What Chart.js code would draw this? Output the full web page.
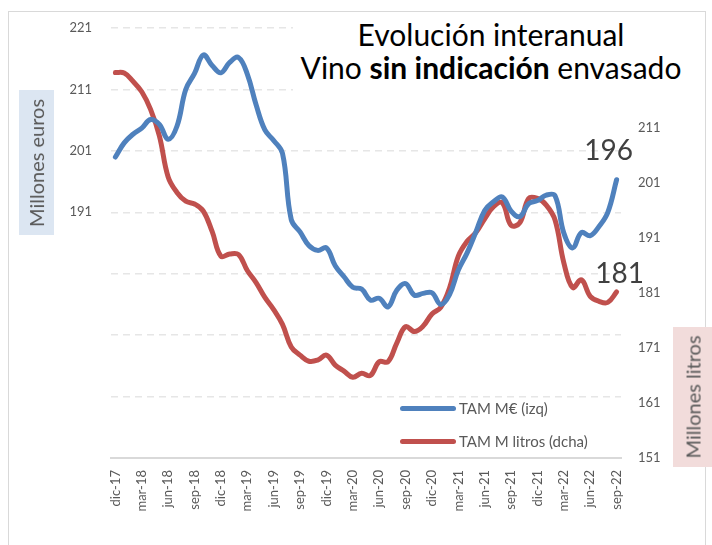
<!DOCTYPE html>
<html>
<head>
<meta charset="utf-8">
<script src="https://cdn.jsdelivr.net/npm/chart.js@4.4.1/dist/chart.umd.min.js"></script>
<style>
  html, body { margin: 0; padding: 0; background: #fff; }
  #wrap { position: relative; width: 712px; height: 545px; overflow: hidden; font-family: Lato, "Open Sans", sans-serif; }
  #c { position: absolute; left: 0; top: 0; }
  .abs { position: absolute; }
  #frame { left: 8px; top: 11px; width: 698px; height: 560px; border: 1px solid #d9d9d9; box-sizing: border-box; pointer-events: none; }
  #titlebox { left: 293px; top: 14px; width: 396px; height: 86px; background: #fff; text-align: center; color: #000; font-size: 30px; line-height: 33.4px; padding-top: 4px; box-sizing: border-box; white-space: nowrap; }
  .ytitle { color: #595959; font-size: 20px; display: flex; align-items: center; justify-content: center; }
  .ytitle span { transform: rotate(-90deg); white-space: nowrap; display: block; }
  #ylt { left: 19px; top: 90px; width: 35px; height: 145px; background: #dce6f2; }
  #yrt { left: 673px; top: 327px; width: 39px; height: 140px; background: #f2dcdb; }
  .lgline { height: 5px; border-radius: 3px; width: 56px; }
  .lgtext { color: #595959; font-size: 15px; line-height: 16px; white-space: nowrap; }
</style>
</head>
<body>
<div id="wrap">
  <canvas id="c" width="712" height="545" style="width:712px;height:545px"></canvas>
  <div id="frame" class="abs"></div>
  <div id="titlebox" class="abs">Evolución interanual<br>Vino <b>sin indicación</b> envasado</div>
  <div id="ylt" class="abs ytitle"><span>Millones euros</span></div>
  <div id="yrt" class="abs ytitle"><span>Millones litros</span></div>
  <div class="abs lgline" style="left:400px;top:406px;background:#4f81bd"></div>
  <div class="abs lgtext" style="left:459px;top:400px">TAM M€ (izq)</div>
  <div class="abs lgline" style="left:400px;top:439px;background:#c0504d"></div>
  <div class="abs lgtext" style="left:459px;top:433px">TAM M litros (dcha)</div>
</div>
<script>
const categories = [
  "dic-17",
  "ene-18","feb-18","mar-18","abr-18","may-18","jun-18","jul-18","ago-18","sep-18","oct-18","nov-18","dic-18",
  "ene-19","feb-19","mar-19","abr-19","may-19","jun-19","jul-19","ago-19","sep-19","oct-19","nov-19","dic-19",
  "ene-20","feb-20","mar-20","abr-20","may-20","jun-20","jul-20","ago-20","sep-20","oct-20","nov-20","dic-20",
  "ene-21","feb-21","mar-21","abr-21","may-21","jun-21","jul-21","ago-21","sep-21","oct-21","nov-21","dic-21",
  "ene-22","feb-22","mar-22","abr-22","may-22","jun-22","jul-22","ago-22","sep-22"
];
const seriesNames = ["TAM M€ (izq)", "TAM M litros (dcha)"];
const tamEuros = [
  200.0, 202.3, 203.7, 204.7, 206.1, 205.3, 202.9, 205.0, 211.0, 213.6,
  216.6, 214.9, 213.7, 215.4, 216.2, 213.5, 208.5, 204.4, 202.7, 200.6,
  189.8, 187.8, 185.6, 184.8, 185.2, 182.3, 180.5, 178.8, 178.5, 176.7,
  177.0, 175.6, 178.3, 179.4, 177.5, 177.8, 177.9, 176.0, 177.6, 181.6,
  184.4, 187.8, 191.3, 192.7, 193.5, 191.2, 190.3, 192.4, 192.9, 193.8,
  193.7, 187.6, 185.2, 187.7, 187.2, 188.7, 191.0, 196.3
];
const tamLitros = [
  221.1, 221.0, 219.5, 217.6, 214.4, 209.6, 202.1, 199.3, 197.7, 197.2,
  195.9, 192.2, 187.7, 188.1, 188.0, 185.1, 182.9, 180.2, 178.0, 175.3,
  171.2, 169.7, 168.6, 168.8, 169.7, 167.9, 166.8, 165.7, 166.4, 166.0,
  168.5, 168.5, 171.9, 174.9, 174.0, 175.0, 177.2, 178.4, 181.9, 187.7,
  190.4, 192.0, 194.5, 196.7, 197.4, 193.3, 193.8, 198.2, 198.2, 197.0,
  194.3, 186.5, 182.0, 183.4, 180.4, 179.5, 179.3, 181.2
];
const leftTicks = [191, 201, 211, 221];
const rightTicks = [151, 161, 171, 181, 191, 201, 211];
const endLabels = ["196", "181"];

const tickColor = "#595959";
const fontFam = "Lato, 'Open Sans', sans-serif";

const endLabelPlugin = {
  id: "endLabels",
  afterDatasetsDraw(chart) {
    const ctx = chart.ctx;
    ctx.save();
    ctx.fillStyle = "#404040";
    ctx.font = "28px " + fontFam;
    ctx.textAlign = "center";
    ctx.textBaseline = "alphabetic";
    const m0 = chart.getDatasetMeta(0).data;
    const p0 = m0[m0.length - 1];
    ctx.fillText(endLabels[0], p0.x - 8, p0.y - 20);
    const m1 = chart.getDatasetMeta(1).data;
    const p1 = m1[m1.length - 1];
    ctx.fillText(endLabels[1], p1.x + 3, p1.y - 9);
    ctx.restore();
  }
};

new Chart(document.getElementById("c"), {
  type: "line",
  data: {
    labels: categories,
    datasets: [
      { label: seriesNames[0], data: tamEuros, yAxisID: "yL", borderColor: "#4f81bd", borderWidth: 5, tension: 0.4, pointRadius: 0, borderCapStyle: "round", borderJoinStyle: "round", fill: false },
      { label: seriesNames[1], data: tamLitros, yAxisID: "yR", borderColor: "#c0504d", borderWidth: 5, tension: 0.4, pointRadius: 0, borderCapStyle: "round", borderJoinStyle: "round", fill: false }
    ]
  },
  options: {
    responsive: false,
    devicePixelRatio: 1,
    animation: false,
    layout: { padding: { left: 0, right: 0, top: 28, bottom: 0 } },
    plugins: { legend: { display: false }, tooltip: { enabled: false }, title: { display: false } },
    scales: {
      x: {
        type: "category",
        offset: true,
        grid: { display: false, drawTicks: false },
        border: { display: true, color: "#d9d9d9", width: 2 },
        ticks: {
          autoSkip: false, minRotation: 90, maxRotation: 90, padding: 12,
          color: tickColor, font: { family: fontFam, size: 13 },
          callback: function (v, i) { return i % 3 === 0 ? categories[i] : ""; }
        },
        afterFit: s => { s.height = 87; }
      },
      yL: {
        position: "left", min: 151, max: 221,
        afterBuildTicks: s => { const t = []; for (let v = 151; v <= 221; v += 10) t.push({ value: v }); s.ticks = t; },
        grid: { color: "#e6e6e6", lineWidth: 1.5, drawTicks: false },
        border: { display: false, dash: [7, 5] },
        ticks: { padding: 19, color: tickColor, font: { family: fontFam, size: 13 },
          callback: v => leftTicks.includes(v) ? String(v) : "" },
        afterFit: s => { s.width = 111; }
      },
      yR: {
        position: "right", min: 151, max: 229.2,
        afterBuildTicks: s => { s.ticks = rightTicks.map(v => ({ value: v })); },
        grid: { display: false, drawTicks: false },
        border: { display: false },
        ticks: { padding: 17, color: tickColor, font: { family: fontFam, size: 13 },
          callback: v => String(v) },
        afterFit: s => { s.width = 91; }
      }
    }
  },
  plugins: [endLabelPlugin]
});
</script>
</body>
</html>
